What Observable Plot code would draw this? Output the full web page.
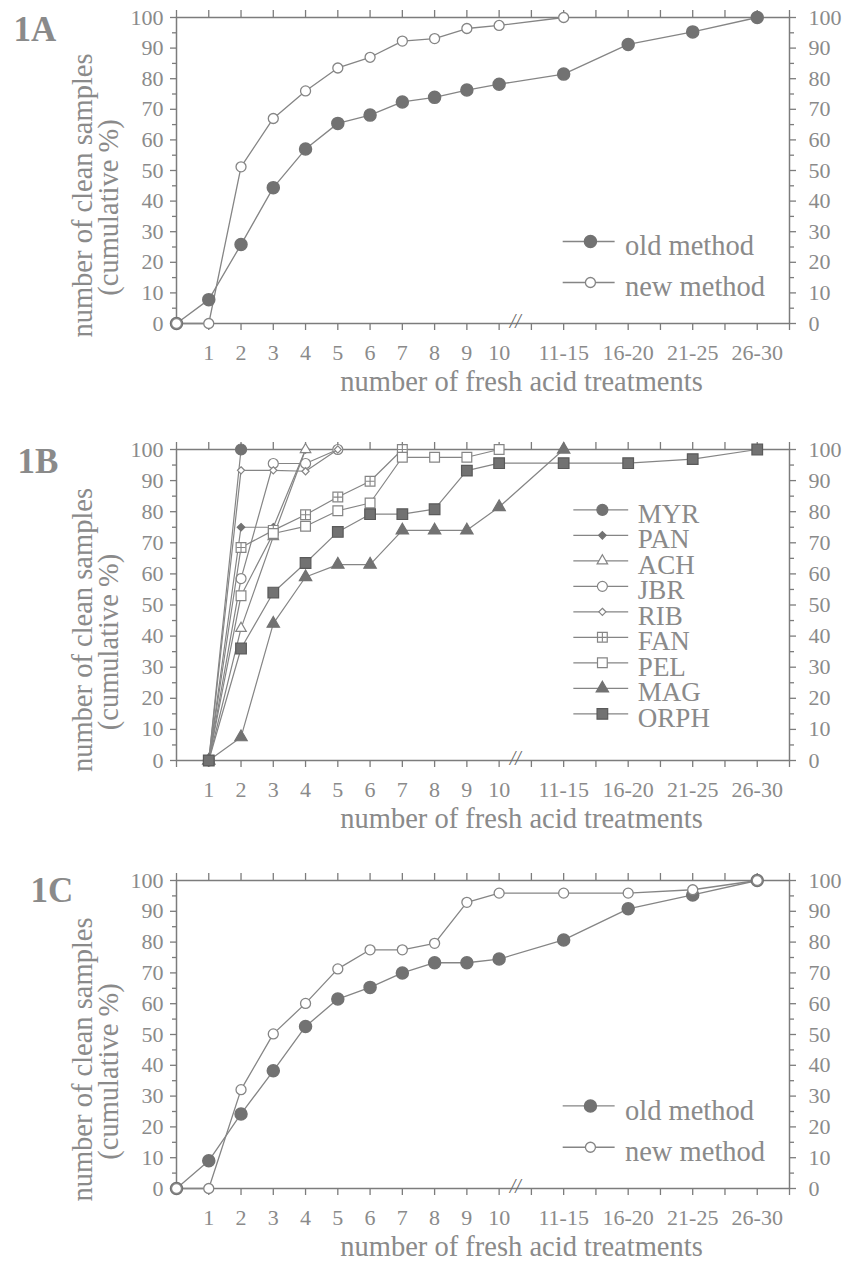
<!DOCTYPE html>
<html>
<head>
<meta charset="utf-8">
<script src="https://cdn.jsdelivr.net/npm/d3@7"></script>
<script src="https://cdn.jsdelivr.net/npm/@observablehq/plot@0.6"></script>
<style>
  body { margin: 0; background: #fff; }
  #chart { width: 847px; }
  #chart svg { display: block; }
</style>
</head>
<body>
<div id="chart"></div>
<script>
// ---------------- DATA ----------------
// x positions of the categories (0 = origin, 11 = axis break, 12..18 = grouped bins)
const positions = [0, 1, 2, 3, 4, 5, 6, 7, 8, 9, 10, 12, 14, 16, 18];
const tickPositions = [1, 2, 3, 4, 5, 6, 7, 8, 9, 10, 12, 14, 16, 18];
const tickLabels = ["1", "2", "3", "4", "5", "6", "7", "8", "9", "10", "11-15", "16-20", "21-25", "26-30"];
const breakAt = [10.5];
const yMajor = [0, 10, 20, 30, 40, 50, 60, 70, 80, 90, 100];
const yMinor = [5, 15, 25, 35, 45, 55, 65, 75, 85, 95];

const xTitle = "number of fresh acid treatments";
const yTitle1 = "number of clean samples";
const yTitle2 = "(cumulative %)";

// Panel 1A
const oldA = [0, 7.8, 25.8, 44.4, 57, 65.4, 68.1, 72.4, 73.9, 76.3, 78.2, 81.5, 91.2, 95.3, 100];
const newA = [0, 0, 51.2, 67, 76, 83.5, 87, 92.3, 93.1, 96.4, 97.4, 100, null, null, null];

// Panel 1B
const seriesB = ["MYR", "PAN", "ACH", "JBR", "RIB", "FAN", "PEL", "MAG", "ORPH"];
const MYR  = [null, 0, 100];
const PAN  = [null, 0, 75, 75, 100];
const ACH  = [null, 0, 42.5, 72, 100];
const JBR  = [null, 0, 58.5, 95.5, 95.5, 100];
const RIB  = [null, 0, 93.3, 93.3, 93, 100];
const FAN  = [null, 0, 68.5, 74, 79, 84.7, 89.8, 100];
const PEL  = [null, 0, 53, 73, 75.3, 80.3, 82.8, 97.5, 97.5, 97.5, 100];
const MAG  = [null, 0, 7.5, 44, 59, 63, 63, 74, 74, 74, 81.5, 100];
const ORPH = [null, 0, 36, 54, 63.5, 73.5, 79.2, 79.2, 80.8, 93.2, 95.6, 95.6, 95.6, 96.9, 100];

// Panel 1C
const oldC = [0, 9.0, 24.2, 38.2, 52.6, 61.5, 65.3, 70, 73.3, 73.3, 74.5, 80.7, 90.8, 95.3, 100];
const newC = [0, 0, 32.1, 50.2, 60.1, 71.3, 77.5, 77.5, 79.6, 92.9, 95.9, 95.9, 95.9, 97, 100];

const methodNames = ["old method", "new method"];

// ---------------- STYLE / LAYOUT ----------------
const AX = "#7c7c7c", LN = "#858585", TXT = "#8a8a8a", DARK = "#727272";
const FONT = "'Liberation Serif', 'Times New Roman', serif";
const labelMap = new Map(tickPositions.map((p, i) => [p, tickLabels[i]]));

function rows(values, name) {
  return positions.map((x, i) => ({x, y: values[i], name})).filter(d => d.y != null);
}

const styleB = {
  MYR:  {symbol: "circle",   r: 5.5, fill: DARK,   stroke: DARK},
  PAN:  {symbol: "diamond2", r: 3.4, fill: DARK,   stroke: DARK},
  ACH:  {symbol: "triangle", r: 3.9, fill: "white", stroke: LN},
  JBR:  {symbol: "circle",   r: 5,   fill: "white", stroke: LN},
  RIB:  {symbol: "diamond2", r: 3.2, fill: "white", stroke: LN},
  FAN:  {symbol: "square",   r: 5.5, fill: "white", stroke: LN, plus: true},
  PEL:  {symbol: "square",   r: 5.5, fill: "white", stroke: LN},
  MAG:  {symbol: "triangle", r: 4.6, fill: DARK,   stroke: DARK},
  ORPH: {symbol: "square",   r: 6,   fill: DARK,   stroke: "#5a5a5a"}
};
const valuesB = {MYR, PAN, ACH, JBR, RIB, FAN, PEL, MAG, ORPH};

function frameMarks(tag, tagDx, tagDy) {
  return [
    Plot.axisX(d3.range(0, 20), {anchor: "top", tickSize: 8, fill: "none", stroke: AX, strokeWidth: 1.3, label: null}),
    Plot.axisX(d3.range(0, 20), {anchor: "bottom", tickSize: 7, fill: "none", stroke: AX, strokeWidth: 1.3, label: null}),
    Plot.axisX(tickPositions, {anchor: "bottom", tickSize: 0, tickPadding: 21, tickFormat: d => labelMap.get(d), fill: TXT, fontSize: 22, label: null}),
    Plot.axisY(yMajor, {anchor: "left", tickSize: 6, tickPadding: 7, fill: TXT, stroke: AX, strokeWidth: 1.3, fontSize: 22, label: null}),
    Plot.axisY(yMinor, {anchor: "left", tickSize: 4, fill: "none", stroke: AX, strokeWidth: 1.3, label: null}),
    Plot.axisY(yMajor, {anchor: "right", tickSize: 6, tickPadding: 13, fill: TXT, stroke: AX, strokeWidth: 1.3, fontSize: 22, label: null}),
    Plot.axisY(yMinor, {anchor: "right", tickSize: 4, fill: "none", stroke: AX, strokeWidth: 1.3, label: null}),
    Plot.frame({stroke: AX, strokeWidth: 1.5}),
    Plot.text(breakAt, {x: d => d, y: () => 0, text: () => "//", fontSize: 20, fontStyle: "italic", fill: "#6a6a6a", lineAnchor: "middle", dy: -2}),
    Plot.text([yTitle1], {text: d => d, frameAnchor: "left", textAnchor: "middle", dx: -94, dy: 25, rotate: -90, lineAnchor: "middle", fontSize: 28.5, fill: TXT}),
    Plot.text([yTitle2], {text: d => d, frameAnchor: "left", textAnchor: "middle", dx: -68, dy: 37, rotate: -90, lineAnchor: "middle", fontSize: 28.5, fill: TXT}),
    Plot.text([xTitle], {text: d => d, frameAnchor: "bottom", textAnchor: "middle", dx: 38.5, dy: 67, lineAnchor: "bottom", fontSize: 28.5, fill: TXT}),
    Plot.text([tag], {text: d => d, frameAnchor: "top-left", dx: tagDx, dy: tagDy, textAnchor: "start", lineAnchor: "middle", fontSize: 35, fontWeight: "bold", fill: TXT})
  ];
}

function methodMarks(oldVals, newVals) {
  const legendY = [26.8, 13.4];
  const leg = methodNames.map((name, i) => ({name, y: legendY[i]}));
  return [
    Plot.line(rows(oldVals, "old"), {x: "x", y: "y", stroke: LN, strokeWidth: 1.3}),
    Plot.line(rows(newVals, "new"), {x: "x", y: "y", stroke: LN, strokeWidth: 1.3}),
    Plot.dot(rows(oldVals, "old"), {x: "x", y: "y", r: 6, fill: DARK, stroke: DARK}),
    Plot.dot(rows(newVals, "new"), {x: "x", y: "y", r: 5, fill: "white", stroke: LN, strokeWidth: 1.3}),
    // legend
    Plot.link(leg, {x1: () => 11.97, x2: () => 13.58, y1: "y", y2: "y", stroke: LN, strokeWidth: 1.3}),
    Plot.dot(leg.slice(0, 1), {x: () => 12.83, y: "y", r: 6, fill: DARK, stroke: DARK}),
    Plot.dot(leg.slice(1), {x: () => 12.83, y: "y", r: 5, fill: "white", stroke: LN, strokeWidth: 1.3}),
    Plot.text(leg, {x: () => 13.9, y: "y", text: "name", textAnchor: "start", lineAnchor: "bottom", dy: 14, fontSize: 28.5, fill: TXT})
  ];
}

function seriesBMarks() {
  const marks = [];
  for (const name of seriesB) {
    const data = rows(valuesB[name], name);
    const s = styleB[name];
    marks.push(Plot.line(data, {x: "x", y: "y", stroke: LN, strokeWidth: 1.2}));
    marks.push(Plot.dot(data, {x: "x", y: "y", symbol: () => s.symbol, r: s.r, fill: s.fill, stroke: s.stroke, strokeWidth: 1.2}));
    if (s.plus) marks.push(Plot.dot(data, {x: "x", y: "y", symbol: () => "plus", r: 3, stroke: LN, strokeWidth: 1.1}));
  }
  // legend
  const leg = seriesB.map((name, i) => ({name, y: 80.6 - i * 8.2}));
  marks.push(Plot.link(leg, {x1: () => 12.3, x2: () => 14.0, y1: "y", y2: "y", stroke: LN, strokeWidth: 1.2}));
  for (const d of leg) {
    const s = styleB[d.name];
    marks.push(Plot.dot([d], {x: () => 13.2, y: "y", symbol: () => s.symbol, r: s.r, fill: s.fill, stroke: s.stroke, strokeWidth: 1.2}));
    if (s.plus) marks.push(Plot.dot([d], {x: () => 13.2, y: "y", symbol: () => "plus", r: 3, stroke: LN, strokeWidth: 1.1}));
  }
  marks.push(Plot.text(leg, {x: () => 14.3, y: "y", text: "name", textAnchor: "start", lineAnchor: "bottom", dy: 13, fontSize: 27, fill: TXT}));
  return marks;
}

function makePlot(height, marginTop, marginBottom, marks) {
  return Plot.plot({
    width: 847,
    height,
    marginLeft: 176,
    marginRight: 58,
    marginTop,
    marginBottom,
    x: {domain: [0, 19], label: null},
    y: {domain: [0, 100], label: null},
    style: {fontFamily: FONT, fontSize: "22px", color: TXT, background: "white", overflow: "visible"},
    marks
  });
}

const chart = document.getElementById("chart");
chart.append(makePlot(414, 17, 91, [...frameMarks("1A", -163, 12), ...methodMarks(oldA, newA)]));
chart.append(makePlot(420, 35, 74, [...frameMarks("1B", -159, 12), ...seriesBMarks()]));
chart.append(makePlot(427, 46, 73, [...frameMarks("1C", -146, 10), ...methodMarks(oldC, newC)]));
</script>
</body>
</html>
